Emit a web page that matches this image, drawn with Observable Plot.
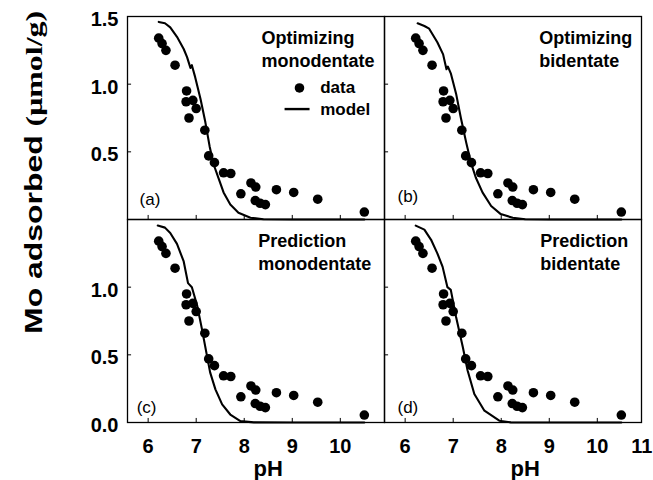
<!DOCTYPE html>
<html>
<head>
<meta charset="utf-8">
<script src="https://cdn.jsdelivr.net/npm/d3@7"></script>
<script src="https://cdn.jsdelivr.net/npm/@observablehq/plot@0.6"></script>
<style>
  html, body { margin: 0; padding: 0; background: #fff; }
  #chart svg { display: block; }
</style>
</head>
<body>
<div id="chart"></div>
<script>
// ---------- data ----------
const dataPH = [6.22, 6.29, 6.37, 6.56, 6.80, 6.79, 6.93, 7.00, 6.85, 7.18, 7.26, 7.38, 7.57, 7.72, 7.93, 8.14, 8.24, 8.23, 8.33, 8.44, 8.67, 9.03, 9.53, 10.50];
const dataMo = [1.34, 1.30, 1.25, 1.14, 0.95, 0.87, 0.88, 0.82, 0.75, 0.66, 0.47, 0.42, 0.345, 0.34, 0.19, 0.27, 0.24, 0.14, 0.12, 0.11, 0.22, 0.20, 0.15, 0.055];

const modelOptMonoPH = [6.22, 6.35, 6.46, 6.60, 6.74, 6.81, 6.88, 6.91, 6.98, 7.09, 7.19, 7.28, 7.36, 7.47, 7.57, 7.71, 7.88, 8.13, 8.40, 9.00, 10.50];
const modelOptMonoMo = [1.46, 1.45, 1.42, 1.35, 1.26, 1.20, 1.12, 1.14, 1.05, 0.89, 0.72, 0.54, 0.41, 0.30, 0.20, 0.11, 0.05, 0.013, 0.002, 0, 0];

const modelOptBiPH = [6.26, 6.40, 6.50, 6.67, 6.79, 6.86, 6.89, 6.95, 7.06, 7.16, 7.27, 7.37, 7.47, 7.61, 7.79, 7.99, 8.24, 8.50, 9.00, 10.50];
const modelOptBiMo = [1.45, 1.43, 1.41, 1.31, 1.22, 1.11, 1.13, 1.08, 0.93, 0.75, 0.57, 0.42, 0.31, 0.20, 0.10, 0.04, 0.013, 0.002, 0, 0];

const modelPredMonoPH = [6.20, 6.35, 6.46, 6.60, 6.74, 6.83, 6.91, 7.02, 7.12, 7.21, 7.29, 7.40, 7.54, 7.71, 7.92, 8.20, 9.00, 10.50];
const modelPredMonoMo = [1.455, 1.44, 1.40, 1.32, 1.19, 1.03, 1.00, 0.865, 0.69, 0.52, 0.37, 0.245, 0.134, 0.059, 0.01, 0.001, 0, 0];

const modelPredBiPH = [6.22, 6.40, 6.54, 6.67, 6.78, 6.88, 6.95, 7.06, 7.20, 7.30, 7.44, 7.65, 7.96, 8.20, 9.00, 10.50];
const modelPredBiMo = [1.455, 1.425, 1.35, 1.25, 1.15, 1.00, 0.98, 0.78, 0.558, 0.384, 0.211, 0.087, 0.013, 0.001, 0, 0];

const columns = ["monodentate", "bidentate"];
const rows = ["Optimizing", "Prediction"];
const panelTags = ["(a)", "(b)", "(c)", "(d)"];
const legendLabels = ["data", "model"];
const yTickLabelsTop = [1.5, 1.0, 0.5];
const yTickLabelsBottom = [1.0, 0.5, 0.0];
const xTickLabelsLeft = [6, 7, 8, 9, 10];
const xTickLabelsRight = [6, 7, 8, 9, 10];
const xTickLabelsRightEdge = [11];
const xTickMarks = [6, 7, 8, 9, 10];
const yTickMarks = [0.5, 1.0];
const xLabel = "pH";
const yLabelMain = "Mo adsorbed ";
const yLabelUnit = "(\u03bcmol/g)";

// ---------- layout (not data) ----------
const xDomain = [5.57, 10.92];
const yDomain = [0, 1.5];
const titleX = [8.36, 8.79, 8.29, 8.81];     // pH where panel titles start
const tagX = [5.82, 5.84, 5.76, 5.84];
const tagY = [0.11, 0.13, 0.072, 0.072];
const FONT = "'Liberation Sans', Arial, Helvetica, sans-serif";
const SERIF = "'Liberation Serif', 'Times New Roman', serif";

// ---------- tables ----------
const points = dataPH.map((p, i) => ({pH: p, mo: dataMo[i]}));
const modelSets = [
  {col: columns[0], row: rows[0], pH: modelOptMonoPH, mo: modelOptMonoMo},
  {col: columns[1], row: rows[0], pH: modelOptBiPH, mo: modelOptBiMo},
  {col: columns[0], row: rows[1], pH: modelPredMonoPH, mo: modelPredMonoMo},
  {col: columns[1], row: rows[1], pH: modelPredBiPH, mo: modelPredBiMo}
];
const modelRows = modelSets.flatMap(s => s.pH.map((x, i) => ({col: s.col, row: s.row, pH: x, mo: s.mo[i]})));
const panels = modelSets.map((s, i) => ({
  col: s.col, row: s.row, title: s.row + "\n" + s.col,
  tag: panelTags[i], tx: titleX[i], gx: tagX[i], gy: tagY[i]
}));
const yTickRows = [
  ...yTickLabelsTop.map(v => ({row: rows[0], v})),
  ...yTickLabelsBottom.map(v => ({row: rows[1], v}))
];
const xTickRows = [
  ...xTickLabelsLeft.map(v => ({col: columns[0], v})),
  ...xTickLabelsRight.map(v => ({col: columns[1], v}))
];
const xTickEdgeRows = xTickLabelsRightEdge.map(v => ({col: columns[1], v}));
const legendA = {col: columns[0], row: rows[0]};
const legendDot = [{...legendA, pH: 9.15, mo: 0.972}];
const legendLine = [{...legendA, x1: 8.85, x2: 9.37, mo: 0.816}];
const legendText = [
  {...legendA, label: legendLabels[0], pH: 9.58, mo: 0.972},
  {...legendA, label: legendLabels[1], pH: 9.58, mo: 0.814}
];
const xLabelRows = columns.map(c => ({col: c, row: rows[1], label: xLabel, pH: 8.5}));
const yLabelRows = [{col: columns[0], row: rows[0], label: yLabelMain + yLabelUnit, mo: 0.348}];

const tickLabelStyle = {fontSize: 20, fontWeight: "bold", fill: "#000"};

const chart = Plot.plot({
  width: 653,
  height: 480,
  marginLeft: 127,
  marginRight: 12,
  marginTop: 16,
  marginBottom: 58,
  style: {fontFamily: FONT, background: "#fff", color: "#000"},
  x: {domain: xDomain, axis: null},
  y: {domain: yDomain, axis: null},
  fx: {domain: columns, padding: 0, axis: null},
  fy: {domain: rows, padding: 0, axis: null},
  marks: [
    Plot.frame({stroke: "#000", strokeWidth: 1.3}),
    Plot.ruleX(xTickMarks, {x: d => d, y1: 0, y2: 0.03, stroke: "#000", strokeWidth: 1}),
    Plot.ruleY(yTickMarks, {y: d => d, x1: xDomain[0], x2: xDomain[0] + 0.085, stroke: "#000", strokeWidth: 1}),
    Plot.line(modelRows, {x: "pH", y: "mo", fx: "col", fy: "row", stroke: "#000", strokeWidth: 2.1}),
    Plot.dot(points, {x: "pH", y: "mo", r: 4.8, fill: "#000", stroke: "none"}),
    Plot.text(panels, {x: "tx", fx: "col", fy: "row", text: "title", frameAnchor: "top", lineAnchor: "top",
      textAnchor: "start", dy: 11, fontSize: 18, fontWeight: "bold", lineHeight: 1.28, fill: "#000"}),
    Plot.text(panels, {x: "gx", y: "gy", fx: "col", fy: "row", text: "tag", lineAnchor: "bottom",
      textAnchor: "start", fontSize: 17, fill: "#000"}),
    Plot.dot(legendDot, {x: "pH", y: "mo", fx: "col", fy: "row", r: 4.8, fill: "#000", stroke: "none"}),
    Plot.ruleY(legendLine, {x1: "x1", x2: "x2", y: "mo", fx: "col", fy: "row", stroke: "#000", strokeWidth: 2.4}),
    Plot.text(legendText, {x: "pH", y: "mo", fx: "col", fy: "row", text: "label", textAnchor: "start",
      lineAnchor: "middle", fontSize: 17, fontWeight: "bold", fill: "#000"}),
    Plot.text(yTickRows, {y: "v", fy: "row", fx: () => columns[0], text: d => d.v.toFixed(1), frameAnchor: "left",
      textAnchor: "end", lineAnchor: "middle", dx: -9, dy: 3, ...tickLabelStyle}),
    Plot.text(xTickRows, {x: "v", fx: "col", fy: () => rows[1], text: d => String(d.v), frameAnchor: "bottom",
      textAnchor: "middle", lineAnchor: "top", dy: 16, ...tickLabelStyle}),
    Plot.text(xTickEdgeRows, {x: "v", fx: "col", fy: () => rows[1], text: d => String(d.v), frameAnchor: "bottom",
      textAnchor: "end", lineAnchor: "top", dx: 7, dy: 16, ...tickLabelStyle}),
    Plot.text(xLabelRows, {x: "pH", fx: "col", fy: "row", text: "label", frameAnchor: "bottom",
      textAnchor: "middle", lineAnchor: "top", dy: 38, fontSize: 22, fontWeight: "bold", fill: "#000"}),
    Plot.text(yLabelRows, {y: "mo", fx: "col", fy: "row", text: "label", frameAnchor: "left", rotate: -90,
      textAnchor: "middle", lineAnchor: "middle", dx: -93.5, fontSize: 24, fontWeight: "bold", fill: "#000",
      ariaDescription: "ylabel"})
  ]
});

document.getElementById("chart").appendChild(chart);

// Mixed fonts for the y label: sans "Mo adsorbed", serif "(μmol/g)"
let yl = chart.querySelector('[aria-description="ylabel"] text');
if (!yl) yl = Array.from(chart.querySelectorAll("text")).find(t => t.textContent === yLabelMain + yLabelUnit);
if (yl) {
  while (yl.firstChild) yl.removeChild(yl.firstChild);
  const ns = "http://www.w3.org/2000/svg";
  const t1 = document.createElementNS(ns, "tspan");
  t1.textContent = yLabelMain;
  t1.style.fontFamily = FONT;
  const t2 = document.createElementNS(ns, "tspan");
  t2.textContent = yLabelUnit;
  t2.style.fontFamily = SERIF;
  yl.appendChild(t1);
  yl.appendChild(t2);
  yl.setAttribute("textLength", "323");
  yl.setAttribute("lengthAdjust", "spacingAndGlyphs");
}
</script>
</body>
</html>
